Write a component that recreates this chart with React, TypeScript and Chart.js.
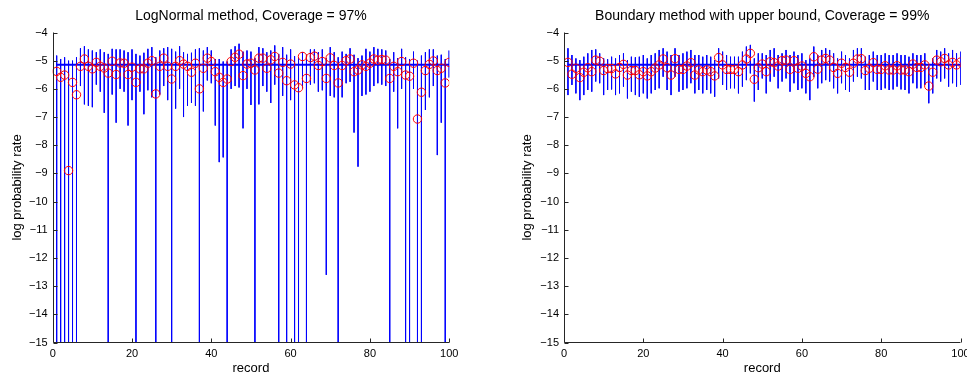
import React, { useEffect, useRef } from "react";
import { Chart, registerables } from "chart.js";

Chart.register(...registerables);

// ---------- data ----------
const records: number[] = [
  1, 2, 3, 4, 5, 6, 7, 8, 9, 10, 11, 12, 13, 14, 15, 16, 17, 18, 19, 20,
  21, 22, 23, 24, 25, 26, 27, 28, 29, 30, 31, 32, 33, 34, 35, 36, 37, 38, 39, 40,
  41, 42, 43, 44, 45, 46, 47, 48, 49, 50, 51, 52, 53, 54, 55, 56, 57, 58, 59, 60,
  61, 62, 63, 64, 65, 66, 67, 68, 69, 70, 71, 72, 73, 74, 75, 76, 77, 78, 79, 80,
  81, 82, 83, 84, 85, 86, 87, 88, 89, 90, 91, 92, 93, 94, 95, 96, 97, 98, 99, 100,
];

const trueValue = -5.14;

const xTicks: number[] = [0, 20, 40, 60, 80, 100];
const yTicks: number[] = [-15, -14, -13, -12, -11, -10, -9, -8, -7, -6, -5, -4];

const leftTitle = "LogNormal method, Coverage = 97%";
const rightTitle = "Boundary method with upper bound, Coverage = 99%";
const xLabel = "record";
const yLabel = "log probability rate";

// LogNormal method
const lnEstimate: number[] = [
  -5.38, -5.59, -5.51, -8.9, -5.77, -6.21, -5.2, -4.94, -5.2, -5.29,
  -5.06, -5.2, -5.26, -5.44, -5.02, -5.49, -5.08, -5.09, -5.49, -5.23,
  -5.77, -5.29, -5.29, -5.09, -5.0, -6.18, -5.2, -4.91, -5.2, -5.65,
  -5.2, -5.0, -5.12, -5.2, -5.41, -5.09, -6.0, -5.27, -4.91, -5.03,
  -5.39, -5.59, -5.77, -5.65, -5.03, -4.88, -4.77, -5.53, -5.12, -5.09,
  -5.33, -4.91, -4.91, -5.27, -4.97, -4.85, -5.44, -5.06, -5.71, -5.12,
  -5.86, -5.96, -4.85, -5.63, -4.89, -4.84, -5.17, -5.03, -5.63, -4.9,
  -5.17, -5.79, -5.17, -5.0, -4.94, -5.39, -5.33, -5.15, -5.2, -5.09,
  -4.94, -4.98, -4.96, -4.98, -5.63, -5.2, -5.39, -5.03, -5.51, -5.55,
  -5.09, -7.07, -6.12, -5.35, -5.13, -5.01, -5.35, -5.27, -5.79, -5.06,
];
const lnUpper: number[] = [
  -4.82, -4.94, -4.88, -5.0, -5.0, -4.88, -4.56, -4.49, -4.6, -4.64,
  -4.7, -4.6, -4.7, -4.76, -4.58, -4.6, -4.6, -4.64, -4.7, -4.6,
  -4.76, -4.82, -4.72, -4.58, -4.52, -4.88, -4.64, -4.56, -4.52, -4.58,
  -4.68, -4.49, -4.7, -4.76, -4.72, -4.6, -4.56, -4.64, -4.52, -4.64,
  -4.94, -4.94, -5.03, -5.03, -4.6, -4.49, -4.4, -4.68, -4.64, -4.68,
  -4.91, -4.52, -4.56, -4.7, -4.64, -4.46, -4.76, -4.52, -4.79, -4.6,
  -4.84, -4.88, -4.7, -4.79, -4.6, -4.6, -4.7, -4.6, -4.91, -4.52,
  -4.7, -4.88, -4.68, -4.76, -4.56, -4.79, -4.91, -4.82, -4.58, -4.68,
  -4.52, -4.58, -4.6, -4.64, -4.94, -4.7, -4.91, -4.58, -4.88, -4.94,
  -4.68, -5.0, -4.82, -4.7, -4.6, -4.6, -4.82, -4.79, -4.94, -4.64,
];
const lnLower: number[] = [
  -15, -15, -15, -15, -15, -15, -5.9, -6.55, -6.6, -6.65,
  -5.85, -6.1, -6.85, -15, -6.2, -7.2, -6.0, -6.1, -7.3, -6.4,
  -15, -6.1, -6.9, -6.05, -6.3, -15, -6.2, -5.9, -6.4, -15,
  -6.7, -6.0, -7.0, -6.6, -6.5, -6.6, -15, -6.8, -5.7, -5.8,
  -7.3, -8.6, -8.43, -15, -6.0, -5.9, -5.95, -7.4, -6.0, -6.57,
  -15, -6.55, -5.9, -6.1, -6.5, -5.85, -15, -6.25, -15, -6.4,
  -15, -15, -5.95, -15, -5.85, -5.8, -6.1, -6.05, -12.6, -6.25,
  -6.3, -15, -6.3, -5.8, -5.75, -7.55, -8.76, -6.25, -6.2, -6.1,
  -5.9, -5.8, -5.85, -5.9, -15, -6.1, -7.4, -6.0, -15, -15,
  -6.0, -15, -15, -6.75, -6.3, -5.9, -8.35, -7.2, -15, -5.6,
];

// Boundary method with upper bound
const bdEstimate: number[] = [
  -5.06, -5.48, -5.27, -5.6, -5.41, -5.25, -5.39, -4.98, -5.02, -5.35,
  -5.28, -5.28, -5.47, -5.24, -5.13, -5.51, -5.35, -5.35, -5.5, -5.39,
  -5.54, -5.39, -5.26, -5.15, -4.94, -5.25, -5.51, -4.93, -5.31, -5.31,
  -5.19, -5.07, -5.51, -5.33, -5.39, -5.33, -5.39, -5.54, -4.89, -5.15,
  -5.31, -5.31, -5.31, -5.39, -5.15, -4.94, -4.74, -5.66, -5.25, -5.12,
  -5.39, -5.04, -5.07, -5.19, -5.0, -4.98, -5.31, -5.0, -5.27, -5.19,
  -5.45, -5.57, -4.86, -5.3, -4.98, -4.92, -4.98, -5.24, -5.45, -5.09,
  -5.24, -5.41, -5.09, -4.94, -4.93, -5.35, -5.27, -5.07, -5.31, -5.31,
  -5.18, -5.33, -5.33, -5.18, -5.33, -5.33, -5.39, -5.12, -5.24, -5.24,
  -5.15, -5.9, -5.41, -4.98, -5.04, -4.92, -5.15, -5.06, -5.15, -5.05,
];
const bdUpper: number[] = [
  -4.56, -4.8, -4.92, -4.98, -4.86, -4.74, -4.62, -4.6, -4.74, -4.92,
  -4.95, -4.86, -4.92, -4.8, -4.74, -4.98, -4.86, -4.88, -4.86, -4.8,
  -4.92, -4.8, -4.74, -4.62, -4.56, -4.68, -4.8, -4.56, -4.8, -4.74,
  -4.68, -4.62, -4.8, -4.8, -4.86, -4.8, -4.86, -4.98, -4.56, -4.68,
  -4.8, -4.86, -4.86, -4.86, -4.68, -4.5, -4.44, -4.92, -4.74, -4.74,
  -4.8, -4.62, -4.56, -4.8, -4.74, -4.62, -4.8, -4.68, -4.8, -4.74,
  -4.98, -4.92, -4.5, -4.8, -4.62, -4.56, -4.62, -4.74, -4.92, -4.68,
  -4.8, -4.92, -4.62, -4.56, -4.56, -4.86, -4.8, -4.68, -4.8, -4.8,
  -4.74, -4.8, -4.8, -4.74, -4.8, -4.8, -4.86, -4.74, -4.8, -4.8,
  -4.74, -5.2, -4.92, -4.62, -4.68, -4.56, -4.74, -4.62, -4.74, -4.68,
];
const bdLower: number[] = [
  -6.22, -5.86, -6.16, -6.4, -6.22, -6.04, -6.1, -5.74, -5.8, -6.22,
  -6.04, -6.02, -6.22, -6.16, -5.92, -6.34, -6.1, -6.22, -6.28, -6.16,
  -6.34, -6.16, -6.04, -5.98, -5.57, -6.04, -6.22, -5.57, -6.1, -6.04,
  -5.98, -5.8, -6.16, -6.04, -6.16, -6.04, -6.16, -6.28, -5.63, -5.86,
  -6.04, -5.98, -5.98, -6.16, -5.92, -5.69, -5.45, -6.45, -6.04, -5.63,
  -6.16, -5.74, -5.57, -5.98, -5.74, -5.63, -6.1, -5.8, -6.04, -5.98,
  -6.16, -6.4, -5.57, -5.98, -5.8, -5.69, -5.74, -5.98, -6.16, -5.8,
  -6.04, -6.1, -5.74, -5.57, -5.63, -6.04, -6.04, -5.74, -6.04, -6.04,
  -5.98, -6.04, -6.02, -5.92, -6.02, -6.04, -6.16, -5.8, -5.98, -5.98,
  -5.86, -6.51, -6.16, -5.63, -5.74, -5.63, -5.92, -5.8, -5.92, -5.86,
];

// ---------- styling ----------
const FONT = '"Liberation Sans", Arial, Helvetica, sans-serif';
const CANVAS_H = 377;
const PLOT_TOP = 32.5;
const PLOT_BOTTOM = 342.5;

function fmtTick(v: number): string {
  return v < 0 ? "\u2212" + Math.abs(v) : String(v);
}

function segments(upper: number[], lower: number[]) {
  const pts: { x: number; y: number | null }[] = [];
  records.forEach((r, i) => {
    pts.push({ x: r, y: upper[i] }, { x: r, y: lower[i] }, { x: r, y: null });
  });
  return pts;
}

function axesPlugin(title: string, yLabelX: number) {
  return {
    id: "matlabAxes",
    afterDatasetsDraw(chart: any) {
      const { ctx, chartArea, scales } = chart;
      const { left, right, top, bottom } = chartArea;
      const xs = scales.x;
      const ys = scales.y;
      ctx.save();
      ctx.strokeStyle = "#262626";
      ctx.lineWidth = 1;
      const ax = Math.round(left) + 0.5;
      const ay = Math.round(bottom) - 0.5;
      ctx.beginPath();
      ctx.moveTo(ax, top);
      ctx.lineTo(ax, ay);
      ctx.lineTo(right, ay);
      ctx.stroke();
      ctx.beginPath();
      yTicks.forEach((v) => {
        const py = Math.round(ys.getPixelForValue(v)) + 0.5;
        ctx.moveTo(ax, py);
        ctx.lineTo(ax + 4, py);
      });
      xTicks.forEach((v) => {
        const px = Math.round(xs.getPixelForValue(v)) + 0.5;
        ctx.moveTo(px, ay);
        ctx.lineTo(px, ay - 4);
      });
      ctx.stroke();

      ctx.fillStyle = "#000";
      ctx.textAlign = "center";
      ctx.textBaseline = "middle";
      const cx = (left + right) / 2;
      ctx.font = `14px ${FONT}`;
      ctx.fillText(title, cx, 16);
      ctx.font = `13px ${FONT}`;
      ctx.fillText(xLabel, cx, 368);
      ctx.save();
      ctx.translate(yLabelX, (top + bottom) / 2);
      ctx.rotate(-Math.PI / 2);
      ctx.fillText(yLabel, 0, 0);
      ctx.restore();
      ctx.restore();
    },
  };
}

function makeConfig(opts: {
  width: number;
  plotL: number;
  plotR: number;
  title: string;
  yLabelX: number;
  est: number[];
  up: number[];
  lo: number[];
}): any {
  const tickFont = { family: FONT, size: 11 };
  return {
    type: "line",
    data: {
      datasets: [
        {
          label: "estimate",
          data: records.map((r, i) => ({ x: r, y: opts.est[i] })),
          showLine: false,
          pointStyle: "circle",
          pointRadius: 4.2,
          pointBorderColor: "#ff0000",
          pointBackgroundColor: "rgba(0,0,0,0)",
          pointBorderWidth: 1,
          order: 0,
        },
        {
          label: "true",
          data: [
            { x: records[0], y: trueValue },
            { x: records[records.length - 1], y: trueValue },
          ],
          borderColor: "#0000ff",
          borderWidth: 2,
          pointRadius: 0,
          order: 1,
        },
        {
          label: "interval",
          data: segments(opts.up, opts.lo),
          borderColor: "#0000ff",
          borderWidth: 1,
          pointRadius: 0,
          spanGaps: false,
          order: 2,
        },
      ],
    },
    options: {
      responsive: false,
      maintainAspectRatio: false,
      animation: false,
      events: [],
      layout: {
        padding: { left: 0, right: opts.width - opts.plotR, top: PLOT_TOP, bottom: 0 },
      },
      plugins: {
        legend: { display: false },
        tooltip: { enabled: false },
        title: { display: false },
      },
      scales: {
        x: {
          type: "linear",
          min: 0,
          max: 100,
          grid: { display: false, drawTicks: false },
          border: { display: false },
          ticks: {
            padding: 5,
            color: "#000",
            font: tickFont,
            maxRotation: 0,
            autoSkip: false,
            callback: (v: number) => fmtTick(v),
          },
          afterBuildTicks: (s: any) => {
            s.ticks = xTicks.map((v) => ({ value: v }));
          },
          afterFit: (s: any) => {
            s.height = CANVAS_H - PLOT_BOTTOM;
            s.paddingLeft = 0;
            s.paddingRight = 0;
          },
        },
        y: {
          type: "linear",
          min: -15,
          max: -4,
          grid: { display: false, drawTicks: false },
          border: { display: false },
          ticks: {
            padding: 5,
            color: "#000",
            font: tickFont,
            autoSkip: false,
            callback: (v: number) => fmtTick(v),
          },
          afterBuildTicks: (s: any) => {
            s.ticks = yTicks.map((v) => ({ value: v }));
          },
          afterFit: (s: any) => {
            s.width = opts.plotL;
            s.paddingTop = 0;
            s.paddingBottom = 0;
          },
        },
      },
    },
    plugins: [axesPlugin(opts.title, opts.yLabelX)],
  };
}

function Panel(props: {
  left: number;
  width: number;
  plotL: number;
  plotR: number;
  title: string;
  yLabelX: number;
  est: number[];
  up: number[];
  lo: number[];
}) {
  const ref = useRef<HTMLCanvasElement | null>(null);
  useEffect(() => {
    if (!ref.current) return;
    const chart = new Chart(ref.current, makeConfig(props));
    return () => chart.destroy();
  }, []);
  return (
    <canvas
      ref={ref}
      width={props.width}
      height={CANVAS_H}
      style={{ position: "absolute", left: props.left, top: 0, width: props.width, height: CANVAS_H }}
    />
  );
}

export default function App() {
  return (
    <div
      style={{
        position: "fixed",
        left: 0,
        top: 0,
        width: 967,
        height: 377,
        background: "#ffffff",
        overflow: "hidden",
      }}
    >
      <Panel
        left={0}
        width={490}
        plotL={52.7}
        plotR={449.2}
        title={leftTitle}
        yLabelX={17}
        est={lnEstimate}
        up={lnUpper}
        lo={lnLower}
      />
      <Panel
        left={490}
        width={477}
        plotL={74}
        plotR={470.5}
        title={rightTitle}
        yLabelX={37}
        est={bdEstimate}
        up={bdUpper}
        lo={bdLower}
      />
    </div>
  );
}
